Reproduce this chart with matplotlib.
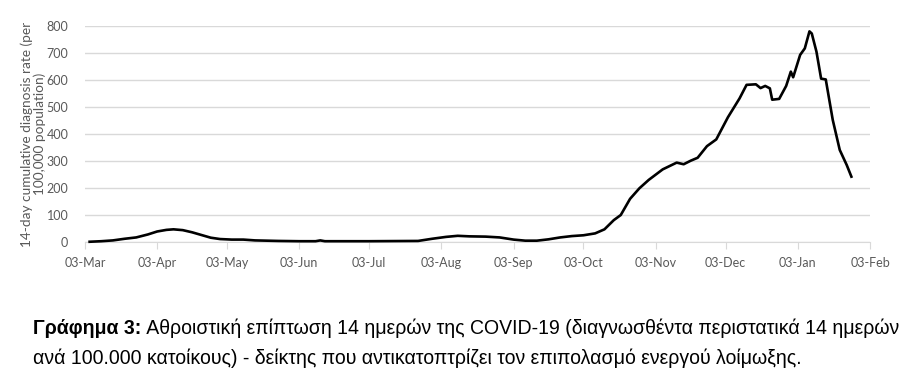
import pandas as pd
import matplotlib
matplotlib.use("Agg")
from matplotlib import pyplot as plt
import matplotlib.dates as mdates

# ---------------- data ----------------
dates = ["2020-03-05", "2020-03-10", "2020-03-15", "2020-03-20", "2020-03-25", "2020-03-30",
         "2020-04-03", "2020-04-07", "2020-04-10", "2020-04-14", "2020-04-18", "2020-04-22",
         "2020-04-26", "2020-04-30", "2020-05-05", "2020-05-10", "2020-05-15", "2020-05-25",
         "2020-06-03", "2020-06-10", "2020-06-12", "2020-06-14", "2020-07-03", "2020-07-24",
         "2020-07-30", "2020-08-05", "2020-08-10", "2020-08-15", "2020-08-22", "2020-08-28",
         "2020-09-03", "2020-09-08", "2020-09-13", "2020-09-18", "2020-09-23", "2020-09-28",
         "2020-10-03", "2020-10-08", "2020-10-12", "2020-10-16", "2020-10-19", "2020-10-23",
         "2020-10-27", "2020-10-31", "2020-11-06", "2020-11-12", "2020-11-15", "2020-11-18",
         "2020-11-21", "2020-11-25", "2020-11-29", "2020-12-04", "2020-12-09", "2020-12-12",
         "2020-12-16", "2020-12-18", "2020-12-20", "2020-12-22", "2020-12-23", "2020-12-26",
         "2020-12-29", "2020-12-31", "2021-01-01", "2021-01-04", "2021-01-06", "2021-01-08",
         "2021-01-09", "2021-01-11", "2021-01-13", "2021-01-15", "2021-01-18", "2021-01-21",
         "2021-01-24", "2021-01-26"]
rate = [1, 3, 6, 12, 17, 28,
        39, 45, 47, 44, 36, 26,
        16, 11, 9, 9, 6, 4,
        3, 3, 6, 3, 3, 4,
        12, 19, 23, 21, 20, 17,
        9, 5, 5, 10, 17, 22,
        25, 32, 47, 81, 100, 160,
        199, 230, 269, 294, 288, 301,
        312, 355, 380, 462, 532, 582,
        584, 570, 578, 569, 527, 530,
        578, 631, 610, 693, 717, 780,
        772, 705, 605, 602, 452, 341,
        285, 242]
tick_dates = pd.date_range("2020-03-01", "2021-02-01", freq="MS") + pd.Timedelta(days=2)
y_ticks = [0, 100, 200, 300, 400, 500, 600, 700, 800]

ylabel = "14-day cumulative diagnosis rate (per\n100,000 population)"
cap_bold = "Γράφημα 3:"
cap_line1 = " Αθροιστική επίπτωση 14 ημερών της COVID-19 (διαγνωσθέντα περιστατικά 14 ημερών"
cap_line2 = "ανά 100.000 κατοίκους) - δείκτης που αντικατοπτρίζει τον επιπολασμό ενεργού λοίμωξης."

gray = "#595959"
plt.rcParams["font.family"] = ["Lato", "DejaVu Sans"]

fig = plt.figure(figsize=(9, 3.86), dpi=100)
ax = fig.add_axes([0.0944, 0.373, 0.8723, 0.5597])

ax.plot(pd.to_datetime(dates), rate, color="black", lw=1.9, clip_on=False, zorder=3)

ax.set_xlim(pd.Timestamp("2020-03-03"), pd.Timestamp("2021-02-03"))
ax.set_ylim(0, 800)
ax.set_yticks(y_ticks)
ax.yaxis.grid(True, color="#d9d9d9", lw=1)
ax.set_axisbelow(True)
ax.set_xticks(tick_dates)
ax.xaxis.set_major_formatter(mdates.DateFormatter("%d-%b"))

for s in ["top", "right", "left"]:
    ax.spines[s].set_visible(False)
ax.spines["bottom"].set_color("#d9d9d9")
ax.tick_params(axis="x", direction="out", length=5, color="#d9d9d9", labelcolor=gray,
               labelsize=9, pad=6)
ax.tick_params(axis="y", length=0, labelcolor=gray, labelsize=9, pad=12)
ax.set_ylabel(ylabel, color=gray, fontsize=9.8, linespacing=1.05, labelpad=0)

# caption under the chart
cap_font = ["Liberation Sans", "DejaVu Sans"]
t = fig.text(0.037, 0.15, cap_bold, fontsize=14.05, fontweight="bold",
             family=cap_font, va="center")
fig.canvas.draw()
bb = t.get_window_extent(renderer=fig.canvas.get_renderer())
fig.text(bb.x1 / fig.bbox.width, 0.15, cap_line1, fontsize=14.05,
         family=cap_font, va="center")
fig.text(0.037, 0.073, cap_line2, fontsize=14.05,
         family=cap_font, va="center")

fig.savefig("out.png", dpi=100)
